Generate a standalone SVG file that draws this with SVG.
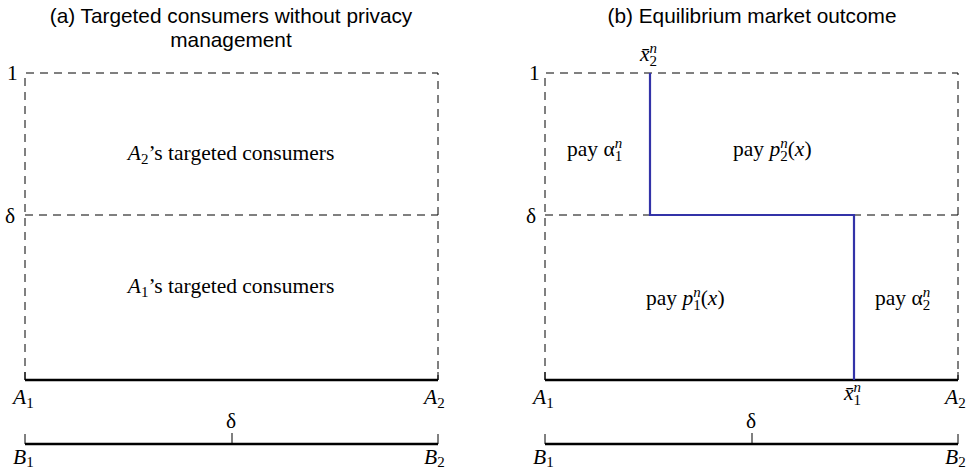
<svg xmlns="http://www.w3.org/2000/svg" width="966" height="471" viewBox="0 0 966 471">
<style>
.dash{stroke:#000;stroke-width:1;stroke-dasharray:8,6;fill:none}
.axis{stroke:#000;stroke-width:2.6;fill:none}
.tick{stroke:#000;stroke-width:1;fill:none}
.blue{stroke:#3333a8;stroke-width:2.2;fill:none}
.title{font-family:"Liberation Sans",Arial,sans-serif;font-size:20.8px;fill:#000;text-anchor:middle}
.t{font-family:"Liberation Serif","Times New Roman",serif;font-size:21.5px;fill:#000}
.c{text-anchor:middle}
.m{font-style:italic}
.sub{font-size:15px}
</style>
<rect width="966" height="471" fill="#fff"/>
<g id="titles">
<text class="title" x="231" y="23">(a) Targeted consumers without privacy</text>
<text class="title" x="231" y="47">management</text>
<text class="title" x="752" y="23">(b) Equilibrium market outcome</text>
</g>
<g id="panel-a">
<path class="dash" d="M25,380 V73 H438 V380"/>
<path class="dash" d="M25,215 H438"/>
<path class="axis" d="M25,380 H438"/>
<path class="tick" d="M25,372 V380 M438,372 V380"/>
<path class="axis" d="M25,444 H438"/>
<path class="tick" d="M25,434 V444 M438,434 V444 M232,433 V444"/>
<text class="t" x="7" y="80">1</text>
<text class="t" x="5" y="223">δ</text>
<text class="t" x="226" y="428">δ</text>
<text class="t" x="13" y="404"><tspan class="m">A</tspan><tspan class="sub" dy="4">1</tspan></text>
<text class="t" x="424" y="404"><tspan class="m">A</tspan><tspan class="sub" dy="4">2</tspan></text>
<text class="t" x="13" y="464"><tspan class="m">B</tspan><tspan class="sub" dy="3">1</tspan></text>
<text class="t" x="424" y="464"><tspan class="m">B</tspan><tspan class="sub" dy="3">2</tspan></text>
<text class="t c" x="231" y="160"><tspan class="m">A</tspan><tspan class="sub" dy="4">2</tspan><tspan dy="-4">’s targeted consumers</tspan></text>
<text class="t c" x="231" y="293"><tspan class="m">A</tspan><tspan class="sub" dy="4">1</tspan><tspan dy="-4">’s targeted consumers</tspan></text>
</g>
<g id="panel-b">
<path class="dash" d="M545,380 V73 H958 V380"/>
<path class="dash" d="M545,215 H958"/>
<path class="axis" d="M545,380 H958"/>
<path class="tick" d="M545,372 V380 M958,372 V380"/>
<path class="axis" d="M545,444 H958"/>
<path class="tick" d="M545,434 V444 M958,434 V444 M752,433 V444"/>
<text class="t" x="529" y="80">1</text>
<text class="t" x="526" y="223">δ</text>
<text class="t" x="746" y="428">δ</text>
<text class="t" x="533" y="404"><tspan class="m">A</tspan><tspan class="sub" dy="4">1</tspan></text>
<text class="t" x="945" y="404"><tspan class="m">A</tspan><tspan class="sub" dy="4">2</tspan></text>
<text class="t" x="533" y="464"><tspan class="m">B</tspan><tspan class="sub" dy="3">1</tspan></text>
<text class="t" x="945" y="464"><tspan class="m">B</tspan><tspan class="sub" dy="3">2</tspan></text>
</g>
<g id="boundary">
<path class="blue" d="M650,73 V215 H854 V380"/>
</g>
<g id="labels-b">
<text class="t" x="640" y="61"><tspan class="m">x̄</tspan><tspan class="sub m" dy="-8">n</tspan><tspan class="sub" dx="-7.5" dy="13">2</tspan></text>
<text class="t" x="844" y="400"><tspan class="m">x̄</tspan><tspan class="sub m" dy="-8">n</tspan><tspan class="sub" dx="-7.5" dy="13">1</tspan></text>
<text class="t" x="567" y="156">pay α<tspan class="sub m" dy="-8">n</tspan><tspan class="sub" dx="-7.5" dy="13">1</tspan></text>
<text class="t" x="733" y="156">pay <tspan class="m">p</tspan><tspan class="sub m" dy="-8">n</tspan><tspan class="sub" dx="-7.5" dy="13">2</tspan><tspan dy="-5">(</tspan><tspan class="m">x</tspan>)</text>
<text class="t" x="646" y="305">pay <tspan class="m">p</tspan><tspan class="sub m" dy="-8">n</tspan><tspan class="sub" dx="-7.5" dy="13">1</tspan><tspan dy="-5">(</tspan><tspan class="m">x</tspan>)</text>
<text class="t" x="875" y="305">pay α<tspan class="sub m" dy="-8">n</tspan><tspan class="sub" dx="-7.5" dy="13">2</tspan></text>
</g>
</svg>
